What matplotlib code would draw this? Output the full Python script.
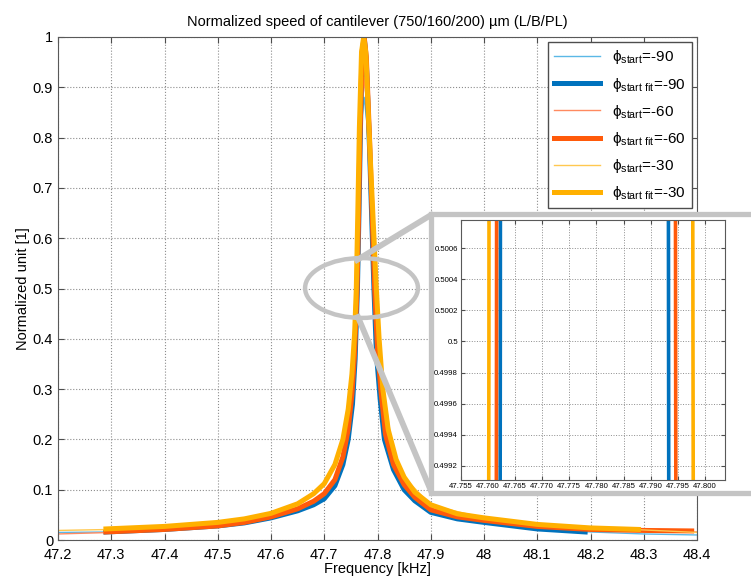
import numpy as np
import matplotlib
matplotlib.use("Agg")
import matplotlib.pyplot as plt
from matplotlib.patches import Ellipse, Rectangle
from matplotlib.lines import Line2D
from matplotlib.ticker import FormatStrFormatter

# ---- data ----
# measured curves (thin lines)
blue_meas_f = [47.2, 47.3, 47.4, 47.5, 47.6, 47.65, 47.7, 47.72, 47.74, 47.752, 47.758, 47.7623, 47.767,
               47.771, 47.775, 47.780, 47.786, 47.7933, 47.80, 47.81, 47.83, 47.85, 47.9, 48.0, 48.1, 48.2, 48.3, 48.4]
blue_meas_v = [0.015, 0.016, 0.021, 0.028, 0.044, 0.057, 0.080, 0.105, 0.17, 0.26, 0.36, 0.50, 0.68,
               0.84, 0.88, 0.83, 0.74, 0.50, 0.35, 0.24, 0.14, 0.10, 0.054, 0.034, 0.022, 0.016, 0.012, 0.010]

red_meas_f = [47.2, 47.3, 47.4, 47.5, 47.6, 47.65, 47.7, 47.72, 47.74, 47.752, 47.757, 47.7616, 47.766,
              47.770, 47.774, 47.779, 47.786, 47.7946, 47.80, 47.81, 47.83, 47.85, 47.9, 48.0, 48.1, 48.2, 48.3, 48.4]
red_meas_v = [0.012, 0.015, 0.020, 0.027, 0.045, 0.060, 0.090, 0.118, 0.18, 0.28, 0.37, 0.50, 0.68,
              0.86, 0.92, 0.88, 0.76, 0.50, 0.38, 0.27, 0.15, 0.11, 0.059, 0.038, 0.026, 0.021, 0.018, 0.016]

orange_meas_f = [47.2, 47.3, 47.4, 47.5, 47.6, 47.65, 47.7, 47.72, 47.74, 47.75, 47.756, 47.7602, 47.765,
                 47.770, 47.774, 47.780, 47.788, 47.7978, 47.803, 47.81, 47.83, 47.85, 47.9, 48.0, 48.1, 48.2, 48.3, 48.4]
orange_meas_v = [0.019, 0.021, 0.026, 0.034, 0.052, 0.071, 0.11, 0.148, 0.23, 0.31, 0.40, 0.50, 0.70,
                 0.93, 0.99, 0.92, 0.76, 0.50, 0.40, 0.31, 0.17, 0.125, 0.069, 0.044, 0.030, 0.024, 0.020, 0.015]

# fitted curves (thick lines)
blue_fit_f = [47.29, 47.4, 47.5, 47.55, 47.6, 47.65, 47.68, 47.70, 47.72, 47.735, 47.745, 47.753, 47.758,
              47.7623, 47.765, 47.768, 47.771, 47.775, 47.779, 47.785, 47.7933, 47.798, 47.805, 47.813,
              47.83, 47.85, 47.87, 47.9, 47.95, 48.0, 48.1, 48.19]
blue_fit_v = [0.016, 0.021, 0.028, 0.034, 0.044, 0.058, 0.070, 0.082, 0.108, 0.15, 0.20, 0.27, 0.36,
              0.50, 0.64, 0.82, 0.96, 1.00, 0.95, 0.78, 0.50, 0.37, 0.28, 0.20,
              0.14, 0.10, 0.078, 0.055, 0.042, 0.035, 0.022, 0.016]

red_fit_f = [47.29, 47.4, 47.5, 47.55, 47.6, 47.65, 47.68, 47.70, 47.72, 47.735, 47.745, 47.752, 47.757,
             47.7616, 47.764, 47.767, 47.771, 47.775, 47.779, 47.785, 47.7946, 47.80, 47.807, 47.815,
             47.83, 47.85, 47.87, 47.9, 47.95, 48.0, 48.1, 48.2, 48.3, 48.39]
red_fit_v = [0.016, 0.021, 0.028, 0.035, 0.046, 0.062, 0.077, 0.092, 0.12, 0.165, 0.22, 0.29, 0.37,
             0.50, 0.62, 0.80, 0.97, 1.00, 0.96, 0.80, 0.50, 0.38, 0.29, 0.21,
             0.15, 0.11, 0.085, 0.060, 0.046, 0.039, 0.027, 0.021, 0.019, 0.018]

orange_fit_f = [47.29, 47.4, 47.5, 47.55, 47.6, 47.65, 47.68, 47.70, 47.72, 47.735, 47.745, 47.752, 47.757,
                47.7602, 47.763, 47.766, 47.770, 47.774, 47.778, 47.783, 47.789, 47.7978, 47.803, 47.81,
                47.82, 47.835, 47.85, 47.87, 47.9, 47.95, 48.0, 48.1, 48.2, 48.29]
orange_fit_v = [0.022, 0.027, 0.035, 0.042, 0.053, 0.072, 0.092, 0.112, 0.150, 0.20, 0.26, 0.33, 0.41,
                0.50, 0.65, 0.82, 0.97, 1.00, 0.97, 0.84, 0.70, 0.50, 0.40, 0.30,
                0.22, 0.16, 0.125, 0.095, 0.070, 0.052, 0.044, 0.031, 0.024, 0.021]

phi_values = ["-90", "-60", "-30"]
meas_colors = ["#5BB8E6", "#FF8A60", "#FFC850"]
fit_colors = ["#0072BD", "#FF5A0A", "#FFB000"]

series = [
    (blue_meas_f, blue_meas_v, blue_fit_f, blue_fit_v),
    (red_meas_f, red_meas_v, red_fit_f, red_fit_v),
    (orange_meas_f, orange_meas_v, orange_fit_f, orange_fit_v),
]

plt.rcParams["font.family"] = ["Liberation Sans", "DejaVu Sans"]
plt.rcParams["mathtext.fontset"] = "custom"
plt.rcParams["mathtext.rm"] = "Liberation Sans"
plt.rcParams["mathtext.it"] = "Liberation Sans:italic"

W, H = 751.0, 579.0
fig = plt.figure(figsize=(W / 100, H / 100), dpi=100)
ax = fig.add_axes([58 / W, 1 - 540 / H, 639 / W, 503 / H])

for i, (mf, mv, ff, fv) in enumerate(series):
    ax.plot(mf, mv, color=meas_colors[i], lw=1.0,
            label="ϕ$_{\\mathrm{start}}$=" + phi_values[i])
    ax.plot(ff, fv, color=fit_colors[i], lw=3.6,
            label="ϕ$_{\\mathrm{start\\ fit}}$=" + phi_values[i])

ax.set_xlim(47.2, 48.4)
ax.set_ylim(0, 1)
ax.set_xticks(np.arange(47.2, 48.41, 0.1))
ax.set_yticks(np.arange(0, 1.01, 0.1))
ax.xaxis.set_major_formatter(FormatStrFormatter("%g"))
ax.yaxis.set_major_formatter(FormatStrFormatter("%g"))
ax.tick_params(direction="in", top=True, right=True, labelsize=10.5, length=4, color="0.3")
ax.tick_params(axis="x", pad=6)
ax.grid(True, linestyle=":", color="0.55", lw=0.8)
for s in ax.spines.values():
    s.set_color("0.35")
ax.set_title("Normalized speed of cantilever (750/160/200) µm (L/B/PL)", fontsize=10.5, pad=8)
ax.set_xlabel("Frequency [kHz]", fontsize=10.5, labelpad=0)
ax.set_ylabel("Normalized unit [1]", fontsize=10.5, labelpad=2)

leg = ax.legend(loc="upper right", fontsize=11, handlelength=3.0, fancybox=False,
                framealpha=1, edgecolor="0.3", borderaxespad=0.35, labelspacing=0.6)
leg.get_frame().set_linewidth(1.0)

# zoom marker ellipse
ax.add_patch(Ellipse((47.77, 0.501), 0.212, 0.119, fill=False, edgecolor="#C4C4C4",
                     lw=3.2, zorder=5, clip_on=False))

# gray frame and connector lines (figure coordinates)
fig.add_artist(Rectangle((431.5 / W, 1 - 492.5 / H), (770 - 431.5) / W, (492.5 - 214) / H,
                         transform=fig.transFigure, facecolor="white", edgecolor="#C4C4C4",
                         lw=3.8, zorder=1))
fig.add_artist(Line2D([357 / W, 431 / W], [1 - 260 / H, 1 - 215 / H], transform=fig.transFigure,
                      color="#C4C4C4", lw=4.2, zorder=1))
fig.add_artist(Line2D([358 / W, 431 / W], [1 - 317 / H, 1 - 491 / H], transform=fig.transFigure,
                      color="#C4C4C4", lw=4.2, zorder=1))

# inset
axi = fig.add_axes([460.7 / W, 1 - 480 / H, 264.3 / W, 260 / H], zorder=2)
for i, (mf, mv, ff, fv) in enumerate(series):
    axi.plot(mf, mv, color=meas_colors[i], lw=1.0)
    axi.plot(ff, fv, color=fit_colors[i], lw=2.6)
axi.set_xlim(47.755, 47.8037)
axi.set_ylim(0.499108, 0.500782)
axi.set_xticks(np.arange(47.755, 47.8001, 0.005))
axi.set_yticks(np.arange(0.4992, 0.50061, 0.0002))
axi.xaxis.set_major_formatter(FormatStrFormatter("%.3f"))
axi.yaxis.set_major_formatter(FormatStrFormatter("%g"))
axi.tick_params(direction="in", top=True, right=True, labelsize=5.6, length=3, color="0.3", pad=2)
axi.grid(True, linestyle=":", color="0.55", lw=0.7)
for s in axi.spines.values():
    s.set_color("0.35")

fig.savefig("out.png", dpi=100)
